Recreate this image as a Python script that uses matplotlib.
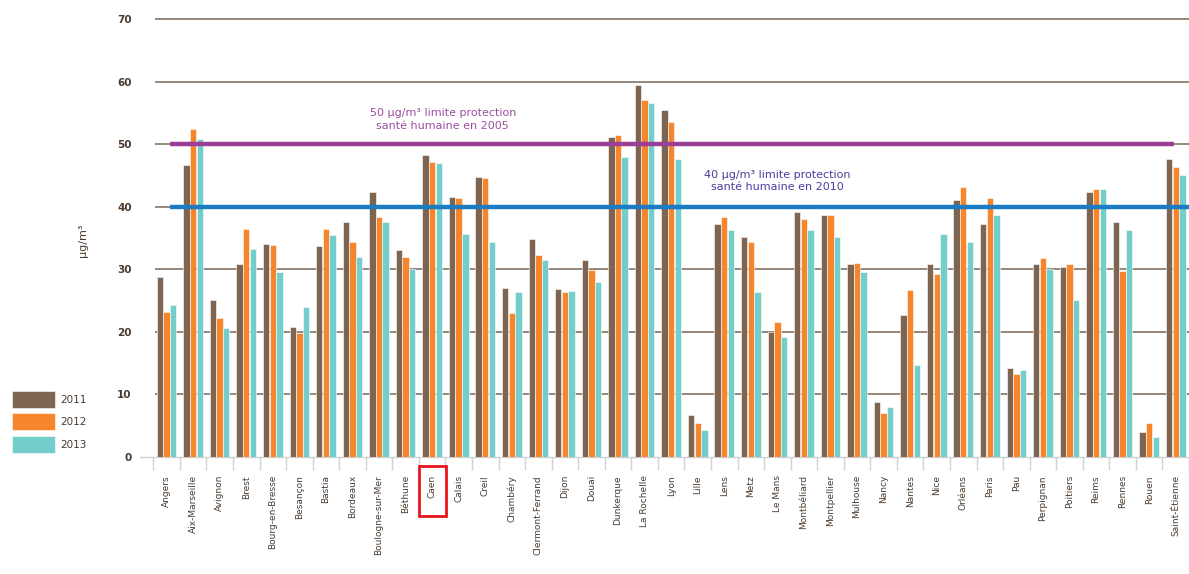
import matplotlib
matplotlib.use("Agg")
import matplotlib.pyplot as plt
import matplotlib.patches as patches
import matplotlib.transforms as transforms
import numpy as np

villes = ["Angers", "Aix-Marseille", "Avignon", "Brest", "Bourg-en-Bresse", "Besançon",
          "Bastia", "Bordeaux", "Boulogne-sur-Mer", "Béthune", "Caen", "Calais", "Creil",
          "Chambéry", "Clermont-Ferrand", "Dijon", "Douai", "Dunkerque", "La Rochelle",
          "Lyon", "Lille", "Lens", "Metz", "Le Mans", "Montbéliard", "Montpellier",
          "Mulhouse", "Nancy", "Nantes", "Nice", "Orléans", "Paris", "Pau", "Perpignan",
          "Poitiers", "Reims", "Rennes", "Rouen", "Saint-Étienne"]

annees = ["2011", "2012", "2013"]

no2_2011 = [28.8, 46.6, 25.1, 30.9, 34.1, 20.8, 33.8, 37.6, 42.4, 33.1, 48.3, 41.6, 44.8,
            27.0, 34.9, 26.9, 31.5, 51.2, 59.4, 55.4, 6.7, 37.3, 35.2, 20.0, 39.2, 38.7,
            30.9, 8.8, 22.7, 30.9, 41.1, 37.3, 14.2, 30.9, 30.3, 42.4, 37.6, 4.0, 47.7]
no2_2012 = [23.2, 52.5, 22.2, 36.5, 33.9, 19.8, 36.5, 34.4, 38.4, 32.0, 47.2, 41.4, 44.6,
            23.0, 32.3, 26.4, 29.9, 51.4, 57.0, 53.6, 5.4, 38.4, 34.4, 21.6, 38.1, 38.6,
            31.0, 7.0, 26.7, 29.3, 43.2, 41.4, 13.2, 31.8, 30.9, 42.9, 29.7, 5.4, 46.4]
no2_2013 = [24.3, 50.9, 20.6, 33.3, 29.6, 24.0, 35.5, 32.0, 37.6, 30.0, 47.0, 35.7, 34.4,
            26.4, 31.5, 26.6, 28.0, 48.0, 56.5, 47.7, 4.3, 36.2, 26.4, 19.2, 36.2, 35.2,
            29.6, 8.0, 14.7, 35.7, 34.4, 38.7, 13.9, 30.1, 25.1, 42.9, 36.3, 3.2, 45.0]

seuils = [50, 40]
seuil_textes = ["50 µg/m³ limite protection\nsanté humaine en 2005",
                "40 µg/m³ limite protection\nsanté humaine en 2010"]

couleurs = ["#7d6552", "#f6852b", "#72cdcb"]
brun_txt = "#4a3a2e"
grille = "#7a6655"

fig = plt.figure(figsize=(11.89, 5.74), dpi=100)
ax = fig.add_axes([140 / 1189, 117 / 574, 1 - 140 / 1189, 438 / 574])

x = np.arange(len(villes))
w = 0.24
series = [no2_2011, no2_2012, no2_2013]
barres = []
for k, (vals, c, an) in enumerate(zip(series, couleurs, annees)):
    b = ax.bar(x + (k - 1) * 0.25, vals, width=w, color=c, edgecolor="white",
               linewidth=0.4, label=an, zorder=3)
    barres.append(b)

# quadrillage brun
ax.hlines([10, 20, 30, 40, 50, 60, 70], -0.45, 40, color=grille, lw=1.1,
          zorder=1, clip_on=False)

# seuils
ax.hlines(seuils[0], 0.12, 37.95, color="#9c3d96", lw=3.2, zorder=4)
ax.hlines(seuils[1], 0.12, 40, color="#1b7cc4", lw=3.2, zorder=4)
ax.text(10.4, 54.0, seuil_textes[0], ha="center", va="center", fontsize=8,
        color="#9b4fa0", linespacing=1.35, zorder=5)
ax.text(23.0, 44.1, seuil_textes[1], ha="center", va="center", fontsize=8,
        color="#4b3c9e", linespacing=1.35, zorder=5)

ax.set_xlim(-1.0, 38.06)
ax.set_ylim(0, 70)

for s in ["top", "right", "left"]:
    ax.spines[s].set_visible(False)
ax.spines["bottom"].set_color("#cfcfcf")
ax.spines["bottom"].set_linewidth(1.0)

ax.set_yticks(range(0, 71, 10))
ax.set_yticklabels([str(v) for v in range(0, 71, 10)], fontsize=7.5,
                   color=brun_txt, fontweight="bold")
ax.tick_params(axis="y", length=0, pad=6)

ax.set_xticks(x)
ax.set_xticklabels(villes, rotation=90, fontsize=6.5, color=brun_txt, va="top")
ax.tick_params(axis="x", which="major", length=0, pad=13)
ax.set_xticks(np.arange(-0.5, len(villes), 1), minor=True)
ax.tick_params(axis="x", which="minor", length=9.5, color="#d0d0d0", width=1)

fig.text(83 / 1189, 0.582, "µg/m³", rotation=90, ha="center", va="center",
         fontsize=8, color=brun_txt)

# cadre rouge autour de la ville mise en avant
trans = transforms.blended_transform_factory(ax.transData, fig.transFigure)
rect = patches.Rectangle((9.5, 58 / 574), 1.04, 50 / 574, transform=trans,
                         fill=False, edgecolor="#e8141b", linewidth=2, clip_on=False)
fig.patches.append(rect)

fig.legend(handles=barres, labels=annees, loc="upper left",
           bbox_to_anchor=(12 / 1189, 1 - 391 / 574), frameon=False,
           fontsize=7.5, handlelength=4.1, handleheight=2.1, labelspacing=0.55,
           handletextpad=0.5, borderpad=0, borderaxespad=0, labelcolor=brun_txt)

fig.savefig("out.png", dpi=100)
